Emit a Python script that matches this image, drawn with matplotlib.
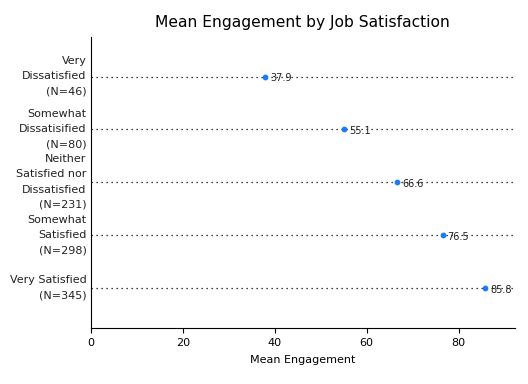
import matplotlib
matplotlib.use("Agg")
import matplotlib.pyplot as plt

categories = ["Very\nDissatisfied\n(N=46)", "Somewhat\nDissatisified\n(N=80)",
              "Neither\nSatisfied nor\nDissatisfied\n(N=231)", "Somewhat\nSatisfied\n(N=298)",
              "Very Satisfied\n(N=345)"]
values = [37.9, 55.1, 66.6, 76.5, 85.8]

fig = plt.figure(figsize=(5.28, 3.84), dpi=100)
ax = fig.add_axes([0.172, 0.146, 0.803, 0.758])
ypos = list(range(len(categories)))
for y in ypos:
    ax.axhline(y, color="black", linestyle=(0, (1, 3)), linewidth=0.9)
ax.scatter(values, ypos, s=10, color="#1a7cf5", zorder=3)
for v, y in zip(values, ypos):
    ax.annotate(f"{v}", (v, y), xytext=(3.5, -1), textcoords="offset points",
                va="center", ha="left", fontsize=7, color="#222222")
ax.set_yticks(ypos)
ax.set_yticklabels([])
for cat, y in zip(categories, ypos):
    ax.annotate(cat, (0, y), xycoords=ax.get_yaxis_transform(), xytext=(-3, 0.3),
                textcoords="offset points", ha="right", va="center",
                multialignment="right", fontsize=8, linespacing=1.65,
                color="#222222", annotation_clip=False)
ax.tick_params(axis="y", length=0, pad=4)
ax.tick_params(axis="x", labelsize=8)
ax.set_ylim(4.75, -0.75)
ax.set_xlim(0, 92.2)
ax.set_xticks([0, 20, 40, 60, 80])
ax.spines["top"].set_visible(False)
ax.spines["right"].set_visible(False)
ax.set_xlabel("Mean Engagement", fontsize=8, labelpad=5.5)
ax.set_title("Mean Engagement by Job Satisfaction", fontsize=11.2, pad=7)
fig.savefig("out.png", dpi=100)
